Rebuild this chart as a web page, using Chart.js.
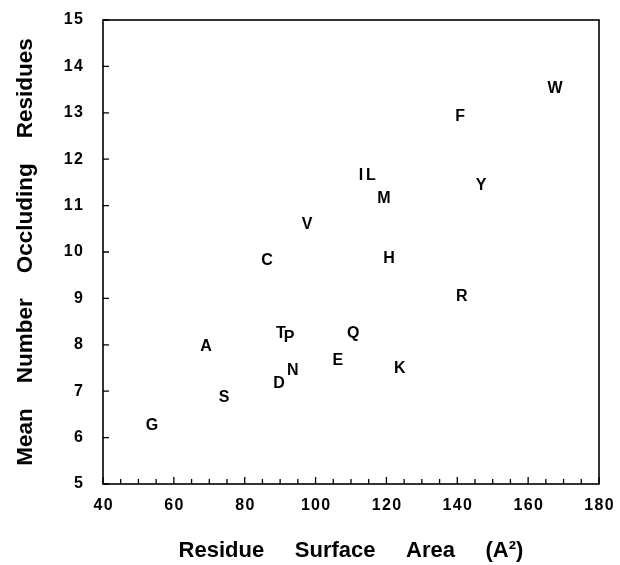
<!DOCTYPE html>
<html>
<head>
<meta charset="utf-8">
<script src="https://cdn.jsdelivr.net/npm/chart.js@4.4.1/dist/chart.umd.min.js"></script>
<style>
  html, body { margin: 0; padding: 0; background: #fff; }
  #wrap { width: 620px; height: 565px; }
</style>
</head>
<body>
<div id="wrap"><canvas id="chart"></canvas></div>
<script>
// amino acid letters with surface area (x) and mean occluding residues (y)
const residues = ["W", "F", "I", "L", "Y", "M", "V", "C", "H", "R", "Q", "T", "P", "A", "E", "K", "N", "D", "S", "G"];
const surfaceArea = [167.6, 140.8, 112.8, 115.6, 146.7, 119.3, 97.6, 86.3, 120.7, 141.3, 110.6, 90.2, 92.5, 69.1, 106.3, 123.8, 93.6, 89.7, 74.2, 53.8];
const occluding = [13.53, 12.91, 11.64, 11.64, 11.44, 11.16, 10.60, 9.81, 9.85, 9.03, 8.25, 8.25, 8.15, 7.97, 7.65, 7.48, 7.44, 7.16, 6.87, 6.25];

const FONT = "'Liberation Sans', Arial, sans-serif";

const points = surfaceArea.map((x, i) => ({ x: x, y: occluding[i] }));

// spread the digits a little like the old typeset labels
const spaced = s => String(s).split("").join("\u200A");

// frame, inward ticks and letter markers
const paperLook = {
  id: "paperLook",
  afterDatasetsDraw(chart) {
    const ctx = chart.ctx;
    const meta = chart.getDatasetMeta(0);
    ctx.save();
    ctx.fillStyle = "#000";
    ctx.font = "bold 16px " + FONT;
    ctx.textAlign = "center";
    ctx.textBaseline = "middle";
    meta.data.forEach((el, i) => {
      ctx.fillText(residues[i], el.x, el.y);
    });
    ctx.restore();
  },
  afterDraw(chart) {
    const ctx = chart.ctx;
    const a = chart.chartArea;
    const xs = chart.scales.x;
    const ys = chart.scales.y;
    ctx.save();
    ctx.strokeStyle = "#000";
    ctx.lineWidth = 1.6;
    ctx.strokeRect(a.left, a.top, a.right - a.left, a.bottom - a.top);
    ctx.lineWidth = 1.3;
    ctx.beginPath();
    xs.ticks.forEach(t => {
      const px = xs.getPixelForValue(t.value);
      const len = t.value % 20 === 0 ? 7 : 5;
      ctx.moveTo(px, a.bottom);
      ctx.lineTo(px, a.bottom - len);
    });
    ys.ticks.forEach(t => {
      const py = ys.getPixelForValue(t.value);
      ctx.moveTo(a.left, py);
      ctx.lineTo(a.left + 6, py);
    });
    ctx.stroke();
    ctx.restore();
  }
};

new Chart(document.getElementById("chart"), {
  type: "scatter",
  data: {
    datasets: [{
      data: points,
      pointRadius: 0,
      pointHoverRadius: 0
    }]
  },
  options: {
    responsive: true,
    maintainAspectRatio: false,
    animation: false,
    layout: { padding: { top: 20, right: 21, bottom: 0, left: 0 } },
    plugins: {
      legend: { display: false },
      tooltip: { enabled: false }
    },
    scales: {
      x: {
        type: "linear",
        min: 40,
        max: 180,
        grid: { display: false, drawTicks: false },
        border: { display: false },
        afterFit(scale) {
          scale.height = 81;
          scale.paddingLeft = 0;
          scale.paddingRight = 0;
        },
        ticks: {
          stepSize: 5,
          autoSkip: false,
          maxRotation: 0,
          padding: 12,
          color: "#000",
          font: { family: FONT, size: 16, weight: "bold" },
          callback: v => (v % 20 === 0 ? spaced(v) : "")
        },
        title: {
          display: true,
          text: "Residue     Surface     Area     (A²)",
          color: "#000",
          font: { family: FONT, size: 22, weight: "bold" },
          padding: { top: 0, bottom: 1 }
        }
      },
      y: {
        type: "linear",
        min: 5,
        max: 15,
        grid: { display: false, drawTicks: false },
        border: { display: false },
        afterFit(scale) {
          scale.width = 103;
          scale.paddingTop = 0;
          scale.paddingBottom = 0;
        },
        ticks: {
          stepSize: 1,
          padding: 20,
          color: "#000",
          font: { family: FONT, size: 16, weight: "bold" },
          callback: v => spaced(v)
        },
        title: {
          display: true,
          text: "Mean    Number    Occluding    Residues",
          color: "#000",
          font: { family: FONT, size: 22.5, weight: "bold" },
          padding: { top: 12, bottom: 0 }
        }
      }
    }
  },
  plugins: [paperLook]
});
</script>
</body>
</html>
